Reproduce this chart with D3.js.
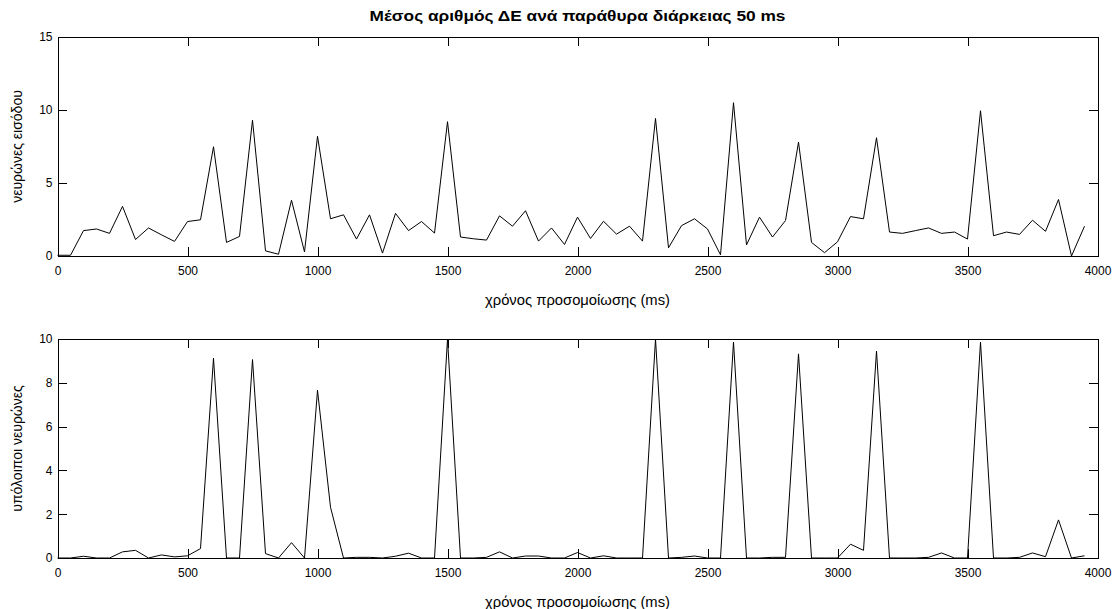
<!DOCTYPE html>
<html>
<head>
<meta charset="utf-8">
<script src="https://cdn.jsdelivr.net/npm/d3@7"></script>
<style>
  html, body { margin: 0; padding: 0; background: #ffffff; }
  svg { display: block; }
  text { font-family: "Liberation Sans", Arial, sans-serif; fill: #000; }
</style>
</head>
<body>
<svg id="chart" width="1120" height="609"></svg>
<script>
// ---- data ----
const title = "Μέσος αριθμός ΔΕ ανά παράθυρα διάρκειας 50 ms";
const xLabel = "χρόνος προσομοίωσης (ms)";
const topYLabel = "νευρώνες εισόδου";
const bottomYLabel = "υπόλοιποι νευρώνες";

const timeMs = [0,50,100,150,200,250,300,350,400,450,500,550,600,650,700,750,800,850,900,950,
  1000,1050,1100,1150,1200,1250,1300,1350,1400,1450,1500,1550,1600,1650,1700,1750,1800,1850,1900,1950,
  2000,2050,2100,2150,2200,2250,2300,2350,2400,2450,2500,2550,2600,2650,2700,2750,2800,2850,2900,2950,
  3000,3050,3100,3150,3200,3250,3300,3350,3400,3450,3500,3550,3600,3650,3700,3750,3800,3850,3900,3950];

const inputNeurons = [0.05,0.05,1.74,1.85,1.55,3.4,1.13,1.92,1.45,1.0,
  2.36,2.48,7.48,0.93,1.34,9.3,0.35,0.12,3.82,0.28,
  8.2,2.55,2.82,1.16,2.82,0.2,2.92,1.74,2.36,1.57,
  9.2,1.3,1.18,1.09,2.75,2.04,3.1,1.02,1.92,0.79,
  2.66,1.2,2.38,1.5,2.04,1.02,9.42,0.56,2.08,2.55,
  1.85,0.08,10.5,0.76,2.66,1.3,2.43,7.8,0.93,0.23,
  0.97,2.7,2.55,8.1,1.64,1.55,1.74,1.92,1.55,1.64,
  1.16,9.95,1.39,1.64,1.48,2.45,1.69,3.87,0,2.04];

const otherNeurons = [0,0,0.08,0,0,0.28,0.35,0,0.14,0.05,
  0.1,0.43,9.12,0,0,9.06,0.2,0,0.7,0,
  7.66,2.32,0,0.03,0.03,0,0.08,0.22,0,0,
  10,0,0,0.03,0.28,0,0.09,0.09,0,0,
  0.25,0,0.1,0,0,0,10,0,0.03,0.09,
  0,0,9.86,0,0,0.03,0.03,9.32,0,0,
  0,0.63,0.35,9.45,0,0,0,0.03,0.23,0,
  0,9.86,0,0,0.03,0.23,0.06,1.74,0,0.1];

const xTicks = [0,500,1000,1500,2000,2500,3000,3500,4000];
const topYTicks = [0,5,10,15];
const bottomYTicks = [0,2,4,6,8,10];

// ---- layout ----
const svg = d3.select("#chart");
const left = 57.5, right = 1097.5;
const tickLen = 9;

function panel(cfg) {
  const x = d3.scaleLinear().domain([0, 4000]).range([left, right]);
  const y = d3.scaleLinear().domain(cfg.yDomain).range([cfg.bottom, cfg.top]);
  const g = svg.append("g");

  // data line
  g.append("path")
    .datum(timeMs.map((t, i) => [t, cfg.values[i]]))
    .attr("fill", "none")
    .attr("stroke", "#000")
    .attr("stroke-width", 1)
    .attr("d", d3.line().x(d => x(d[0])).y(d => y(d[1])));

  // axes (inward ticks on all four sides)
  const axB = d3.axisBottom(x).tickValues(xTicks).tickSizeInner(-tickLen).tickSizeOuter(0).tickPadding(10).tickFormat(d3.format("d"));
  const axT = d3.axisTop(x).tickValues(xTicks).tickSizeInner(-tickLen).tickSizeOuter(0).tickFormat("");
  const axL = d3.axisLeft(y).tickValues(cfg.yTicks).tickSizeInner(-tickLen).tickSizeOuter(0).tickPadding(5).tickFormat(d3.format("d"));
  const axR = d3.axisRight(y).tickValues(cfg.yTicks).tickSizeInner(-tickLen).tickSizeOuter(0).tickFormat("");

  const styleAxis = sel => {
    sel.selectAll("path, line").attr("stroke", "#000").attr("shape-rendering", "crispEdges");
    sel.selectAll("text").style("font-size", "12px").style("font-family", "\"Liberation Sans\", Arial, sans-serif").attr("fill", "#000");
  };
  g.append("g").attr("transform", `translate(0,${cfg.bottom})`).call(axB).call(styleAxis);
  g.append("g").attr("transform", `translate(0,${cfg.top})`).call(axT).call(styleAxis);
  g.append("g").attr("transform", `translate(${left},0)`).call(axL).call(styleAxis);
  g.append("g").attr("transform", `translate(${right},0)`).call(axR).call(styleAxis);

  // x label
  g.append("text")
    .attr("x", (left + right) / 2)
    .attr("y", cfg.bottom + 49)
    .attr("text-anchor", "middle")
    .attr("textLength", 185)
    .attr("lengthAdjust", "spacingAndGlyphs")
    .style("font-size", "14px")
    .text(xLabel);

  // y label
  g.append("text")
    .attr("transform", `translate(22,${(cfg.top + cfg.bottom) / 2}) rotate(-90)`)
    .attr("text-anchor", "middle")
    .style("font-size", "14px")
    .text(cfg.yLabel);
}

panel({ top: 37, bottom: 256, yDomain: [0, 15], yTicks: topYTicks, values: inputNeurons, yLabel: topYLabel });
panel({ top: 339, bottom: 558, yDomain: [0, 10], yTicks: bottomYTicks, values: otherNeurons, yLabel: bottomYLabel });

// title
svg.append("text")
  .attr("x", (left + right) / 2)
  .attr("y", 21)
  .attr("text-anchor", "middle")
  .attr("textLength", 416)
  .attr("lengthAdjust", "spacingAndGlyphs")
  .style("font-size", "15px")
  .style("font-weight", "bold")
  .text(title);
</script>
</body>
</html>
